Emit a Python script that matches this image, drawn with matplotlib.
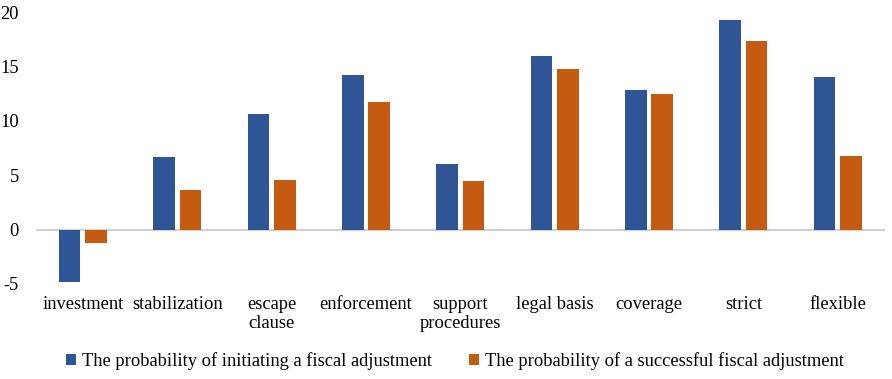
import matplotlib.pyplot as plt
import numpy as np

plt.rcParams['font.family'] = ['Liberation Serif', 'DejaVu Serif']
plt.rcParams['axes.unicode_minus'] = False

categories = ['investment', 'stabilization', 'escape\nclause', 'enforcement',
              'support\nprocedures', 'legal basis', 'coverage', 'strict', 'flexible']
initiating = [-4.8, 6.7, 10.6, 14.2, 6.05, 16.0, 12.8, 19.3, 14.0]
successful = [-1.2, 3.65, 4.6, 11.7, 4.5, 14.8, 12.45, 17.3, 6.8]
series_names = ['The probability of initiating a fiscal adjustment',
                'The probability of a successful fiscal adjustment']

blue = '#2f5597'
orange = '#c55a11'

fig = plt.figure(figsize=(8.92, 3.79), dpi=100)
ax = fig.add_axes([0.040, 0.251, 0.952, 0.717])

x = np.arange(len(categories))
w = 0.23
ax.bar(x - 0.14, initiating, w, color=blue, label=series_names[0])
ax.bar(x + 0.14, successful, w, color=orange, label=series_names[1])

ax.axhline(0, color='#d0d0d0', lw=1.5, zorder=0)
ax.set_xlim(-0.5, len(categories) - 0.5)
ax.set_ylim(-5, 20)
ax.set_yticks([-5, 0, 5, 10, 15, 20])
for s in ax.spines.values():
    s.set_visible(False)
ax.tick_params(axis='y', length=0, labelsize=13.3, pad=12)
ax.tick_params(axis='x', length=0, labelsize=13.3, pad=9)
ax.set_xticks(x)
ax.set_xticklabels(categories, linespacing=1.15)

fig.legend(loc='lower center', bbox_to_anchor=(0.51, -0.02), ncol=2, frameon=False,
           fontsize=13.3, handlelength=0.55, handleheight=0.55, handletextpad=0.3,
           columnspacing=2.0)

fig.savefig('out.png', dpi=100)
